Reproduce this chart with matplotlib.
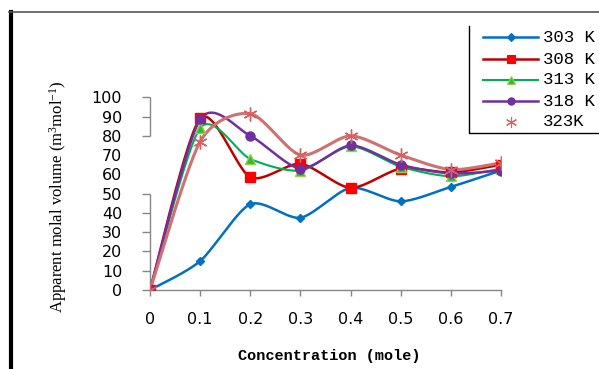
import numpy as np
import matplotlib
matplotlib.use("Agg")
import matplotlib.pyplot as plt
from matplotlib.lines import Line2D

plt.rcParams["mathtext.fontset"] = "custom"
plt.rcParams["mathtext.rm"] = "Liberation Serif"
plt.rcParams["mathtext.it"] = "Liberation Serif"
plt.rcParams["mathtext.default"] = "rm"

# Concentration (mole)
conc = [0.0, 0.1, 0.2, 0.3, 0.4, 0.5, 0.6, 0.7]

# Apparent molal volume at each temperature
v303 = [0, 15, 44.5, 37.5, 53, 46, 53.5, 62]
v308 = [0, 89, 58.5, 65.5, 53, 63, 61, 65]
v313 = [0, 84, 68, 62, 74.5, 64, 59, 63]
v318 = [0, 88.5, 80, 63, 75, 65, 60.5, 62]
v323 = [0, 77, 91.5, 70, 80, 70, 62.5, 66]

labels = ["303 K", "308 K", "313 K", "318 K", "323K"]
x_ticks = [0, 0.1, 0.2, 0.3, 0.4, 0.5, 0.6, 0.7]
x_ticklabels = ["0", "0.1", "0.2", "0.3", "0.4", "0.5", "0.6", "0.7"]
y_ticks = list(range(0, 101, 10))

W, H = 599, 369


def smooth(x, y, k=0.13, n=30):
    """Cardinal-spline smoothed curve through the points (spreadsheet 'smoothed line')."""
    x = np.asarray(x, float)
    y = np.asarray(y, float)
    px = np.concatenate([[x[0]], x, [x[-1]]])
    py = np.concatenate([[y[0]], y, [y[-1]]])
    xs, ys = [], []
    t = np.linspace(0, 1, n)
    for i in range(1, len(px) - 2):
        p0 = np.array([px[i], py[i]])
        p3 = np.array([px[i + 1], py[i + 1]])
        c1 = p0 + (np.array([px[i + 1], py[i + 1]]) - np.array([px[i - 1], py[i - 1]])) * k
        c2 = p3 - (np.array([px[i + 2], py[i + 2]]) - np.array([px[i], py[i]])) * k
        b = ((1 - t) ** 3)[:, None] * p0 + (3 * (1 - t) ** 2 * t)[:, None] * c1 \
            + (3 * (1 - t) * t ** 2)[:, None] * c2 + (t ** 3)[:, None] * p3
        xs.extend(b[:, 0])
        ys.extend(b[:, 1])
    return np.array(xs), np.array(ys)


styles = [
    dict(color="#0070C0", marker="D", ms=4.5, mfc="#0070C0", mec="#0070C0", lw=1.8),
    dict(color="#C00000", marker="s", ms=6.5, mfc="#FF0000", mec="#FF0000", lw=1.8),
    dict(color="#00B050", marker="^", ms=7, mfc="#33B833", mec="#92D050", lw=1.5),
    dict(color="#7030A0", marker="o", ms=6.5, mfc="#7030A0", mec="#7030A0", lw=1.8),
    dict(color="#D07070", marker=(6, 2, 0), ms=10, mfc="#D86060", mec="#D86060", lw=2.2),
]
series = [v303, v308, v313, v318, v323]

fig = plt.figure(figsize=(W / 100, H / 100), dpi=100)
ax = fig.add_axes([150 / W, 79 / H, (501 - 150) / W, (290 - 97.3) / H])

for vals, st in zip(series, styles):
    sx, sy = smooth(conc, vals)
    ax.plot(sx, sy, color=st["color"], lw=st["lw"], solid_capstyle="round", zorder=2)
    ax.plot(conc, vals, ls="none", marker=st["marker"], ms=st["ms"],
            mfc=st["mfc"], mec=st["mec"], mew=1.0, zorder=3)

ax.set_xlim(0, 0.7)
ax.set_ylim(0, 100)
for s in ["top", "right", "left"]:
    ax.spines[s].set_visible(False)
ax.spines["bottom"].set_color("#868686")
ax.spines["bottom"].set_linewidth(1.0)

# value axis line, broken between 50 and 80 where its ticks are absent
ax.vlines([0, 0], [0, 80], [50, 100], color="#868686", lw=1.0, clip_on=False, zorder=1)

ax.set_xticks(x_ticks)
ax.set_xticklabels(x_ticklabels, fontfamily="DejaVu Sans", fontsize=11.5)
ax.set_yticks(y_ticks)
ax.set_yticklabels([str(v) for v in y_ticks], fontfamily="DejaVu Sans", fontsize=11.5)
ax.tick_params(axis="x", length=4, width=1, color="#868686", pad=12, direction="out")
ax.tick_params(axis="y", length=6, width=1, color="#868686", pad=14, direction="out")
for v, tick in zip(y_ticks, ax.yaxis.get_major_ticks()):
    if v in (60, 70):
        tick.tick1line.set_visible(False)

fig.text(58 / W, 1 - 197 / H, r"Apparent molal volume (m$^{3}$mol$^{-1}$)",
         rotation=90, ha="center", va="center", fontfamily="Liberation Serif",
         fontsize=12)
fig.text(329 / W, 1 - 356 / H, "Concentration (mole)", ha="center", va="center",
         fontfamily="Liberation Mono", fontsize=11, fontweight="bold")


# Legend drawn by hand in figure pixel coordinates
def px(x, y):
    return x / W, 1 - y / H


leg_y = [37, 59, 80, 101, 122]
for lab, st, yy in zip(labels, styles, leg_y):
    if lab != "323K":
        (x0, y0), (x1, _) = px(483, yy), px(538, yy)
        fig.add_artist(Line2D([x0, x1], [y0, y0], color=st["color"], lw=st["lw"],
                              transform=fig.transFigure))
    mx, my = px(510.5, yy)
    fig.add_artist(Line2D([mx], [my], ls="none", marker=st["marker"], ms=st["ms"] * 0.8,
                          mfc=st["mfc"], mec=st["mec"], mew=0.8,
                          transform=fig.transFigure))
    tx, ty = px(543, yy)
    fig.text(tx, ty, lab, ha="left", va="center", fontfamily="Liberation Mono",
             fontsize=12.5)

# legend box edges (left and bottom)
fig.add_artist(Line2D([469 / W, 469 / W, 1.0], [1 - 26 / H, 1 - 133 / H, 1 - 133 / H],
                      color="black", lw=1.0, transform=fig.transFigure))

# outer frame: thick left rule and thin top rule
fig.add_artist(Line2D([10.5 / W, 10.5 / W], [0, 1 - 12 / H], color="black", lw=3,
                      transform=fig.transFigure))
fig.add_artist(Line2D([9 / W, 1.0], [1 - 12 / H, 1 - 12 / H], color="#555555", lw=1.2,
                      transform=fig.transFigure))

fig.savefig("out.png", dpi=100, facecolor="white")
